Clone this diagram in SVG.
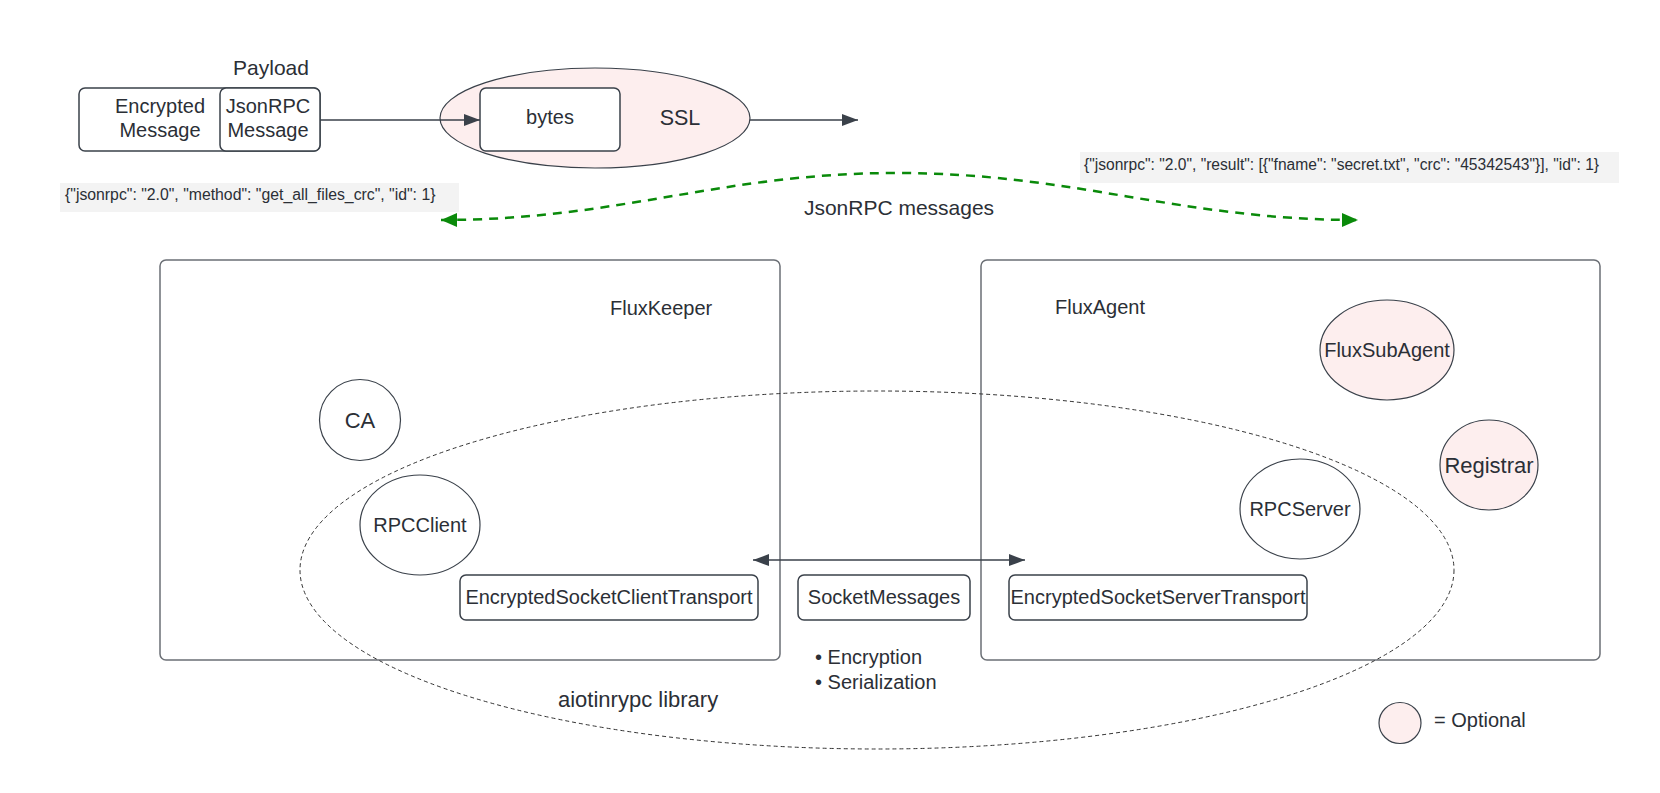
<svg xmlns="http://www.w3.org/2000/svg" width="1660" height="793" viewBox="0 0 1660 793">
<style>
text{font-family:"Liberation Sans",Arial,sans-serif;fill:#2b2f36;font-size:20px}
.c{text-anchor:middle}
.box{fill:#ffffff;stroke:#3a414a;stroke-width:1.5}
.frame{fill:#ffffff;stroke:#6b6f75;stroke-width:1.5}
.node{fill:#ffffff;stroke:#3a414a;stroke-width:1.2}
.opt{fill:#fdeeee;stroke:#3a414a;stroke-width:1.2}
.code{fill:#f3f3f3}
.codet{font-size:15.8px}
.line{fill:none;stroke:#3a414a;stroke-width:1.5}
.green{fill:none;stroke:#0a8a0a;stroke-width:2.5;stroke-dasharray:9 7}
.lib{fill:none;stroke:#333333;stroke-width:1;stroke-dasharray:4 3}
</style>
<defs>
<marker id="ah" viewBox="0 0 16 12" refX="16" refY="6" markerWidth="16" markerHeight="12" markerUnits="userSpaceOnUse" orient="auto-start-reverse">
<path d="M0,0 L16,6 L0,12 z" fill="#3a414a"/>
</marker>
<marker id="gh" viewBox="0 0 16 14" refX="16" refY="7" markerWidth="16" markerHeight="14" markerUnits="userSpaceOnUse" orient="auto-start-reverse">
<path d="M0,0 L16,7 L0,14 z" fill="#0a8a0a"/>
</marker>
</defs>
<rect width="1660" height="793" fill="#ffffff"/>

<g id="payload">
<text class="c" x="271" y="75" style="font-size:21px">Payload</text>
<rect class="box" x="79" y="88" width="241" height="63" rx="6"/>
<rect class="box" x="220" y="88" width="100" height="63" rx="6"/>
<text class="c" x="160" y="113">Encrypted</text>
<text class="c" x="160" y="137">Message</text>
<text class="c" x="268" y="113">JsonRPC</text>
<text class="c" x="268" y="137">Message</text>
</g>

<g id="ssl">
<ellipse class="opt" cx="595" cy="118" rx="155" ry="50"/>
<rect class="box" x="480" y="88" width="140" height="63" rx="6"/>
<text class="c" x="550" y="124">bytes</text>
<text class="c" x="680" y="125" style="font-size:21.5px">SSL</text>
</g>

<g id="json-request">
<rect class="code" x="60" y="183" width="399" height="29"/>
<text class="codet" x="65" y="200">{"jsonrpc": "2.0", "method": "get_all_files_crc", "id": 1}</text>
</g>

<g id="json-response">
<rect class="code" x="1080" y="152" width="539" height="31"/>
<text class="codet" x="1084" y="170" style="font-size:15.6px">{"jsonrpc": "2.0", "result": [{"fname": "secret.txt", "crc": "45342543"}], "id": 1}</text>
</g>

<g id="jsonrpc-label">
<text class="c" x="899" y="215" style="font-size:21px">JsonRPC messages</text>
</g>

<g id="fluxkeeper">
<rect class="frame" x="160" y="260" width="620" height="400" rx="6"/>
<text x="610" y="315">FluxKeeper</text>
</g>

<g id="fluxagent">
<rect class="frame" x="981" y="260" width="619" height="400" rx="6"/>
<text x="1055" y="314">FluxAgent</text>
</g>

<g id="library">
<ellipse class="lib" cx="877" cy="570" rx="577" ry="179"/>
<text x="558" y="707" style="font-size:22px">aiotinrypc library</text>
</g>

<g id="ca">
<ellipse class="node" cx="360" cy="420" rx="40.5" ry="40.5"/>
<text class="c" x="360" y="428" style="font-size:22px">CA</text>
</g>

<g id="rpcclient">
<ellipse class="node" cx="420" cy="525" rx="60" ry="50"/>
<text class="c" x="420" y="532">RPCClient</text>
</g>

<g id="client-transport">
<rect class="box" x="460" y="575" width="298" height="45" rx="6"/>
<text class="c" x="609" y="604">EncryptedSocketClientTransport</text>
</g>

<g id="socketmessages">
<rect class="box" x="798" y="575" width="172" height="45" rx="6"/>
<text class="c" x="884" y="604">SocketMessages</text>
<text x="815" y="664">• Encryption</text>
<text x="815" y="689">• Serialization</text>
</g>

<g id="server-transport">
<rect class="box" x="1009" y="575" width="298" height="45" rx="6"/>
<text class="c" x="1158" y="604">EncryptedSocketServerTransport</text>
</g>

<g id="rpcserver">
<ellipse class="node" cx="1300" cy="509" rx="60" ry="50"/>
<text class="c" x="1300" y="516">RPCServer</text>
</g>

<g id="fluxsubagent">
<ellipse class="opt" cx="1387" cy="350" rx="67" ry="50"/>
<text class="c" x="1387" y="357">FluxSubAgent</text>
</g>

<g id="registrar">
<ellipse class="opt" cx="1489" cy="465" rx="49" ry="45"/>
<text class="c" x="1489" y="473" style="font-size:22px">Registrar</text>
</g>

<g id="legend">
<ellipse class="opt" cx="1400" cy="723" rx="21" ry="20.5"/>
<text x="1434" y="727">= Optional</text>
</g>

<g id="connectors">
<line class="line" x1="320" y1="120" x2="480" y2="120" marker-end="url(#ah)"/>
<line class="line" x1="750" y1="120" x2="858" y2="120" marker-end="url(#ah)"/>
<line class="line" x1="753" y1="560" x2="1025" y2="560" marker-start="url(#ah)" marker-end="url(#ah)"/>
<path class="green" d="M441,220 C620,220 720,173 897,173 C1075,173 1180,220 1358,220" marker-start="url(#gh)" marker-end="url(#gh)"/>
</g>
</svg>
